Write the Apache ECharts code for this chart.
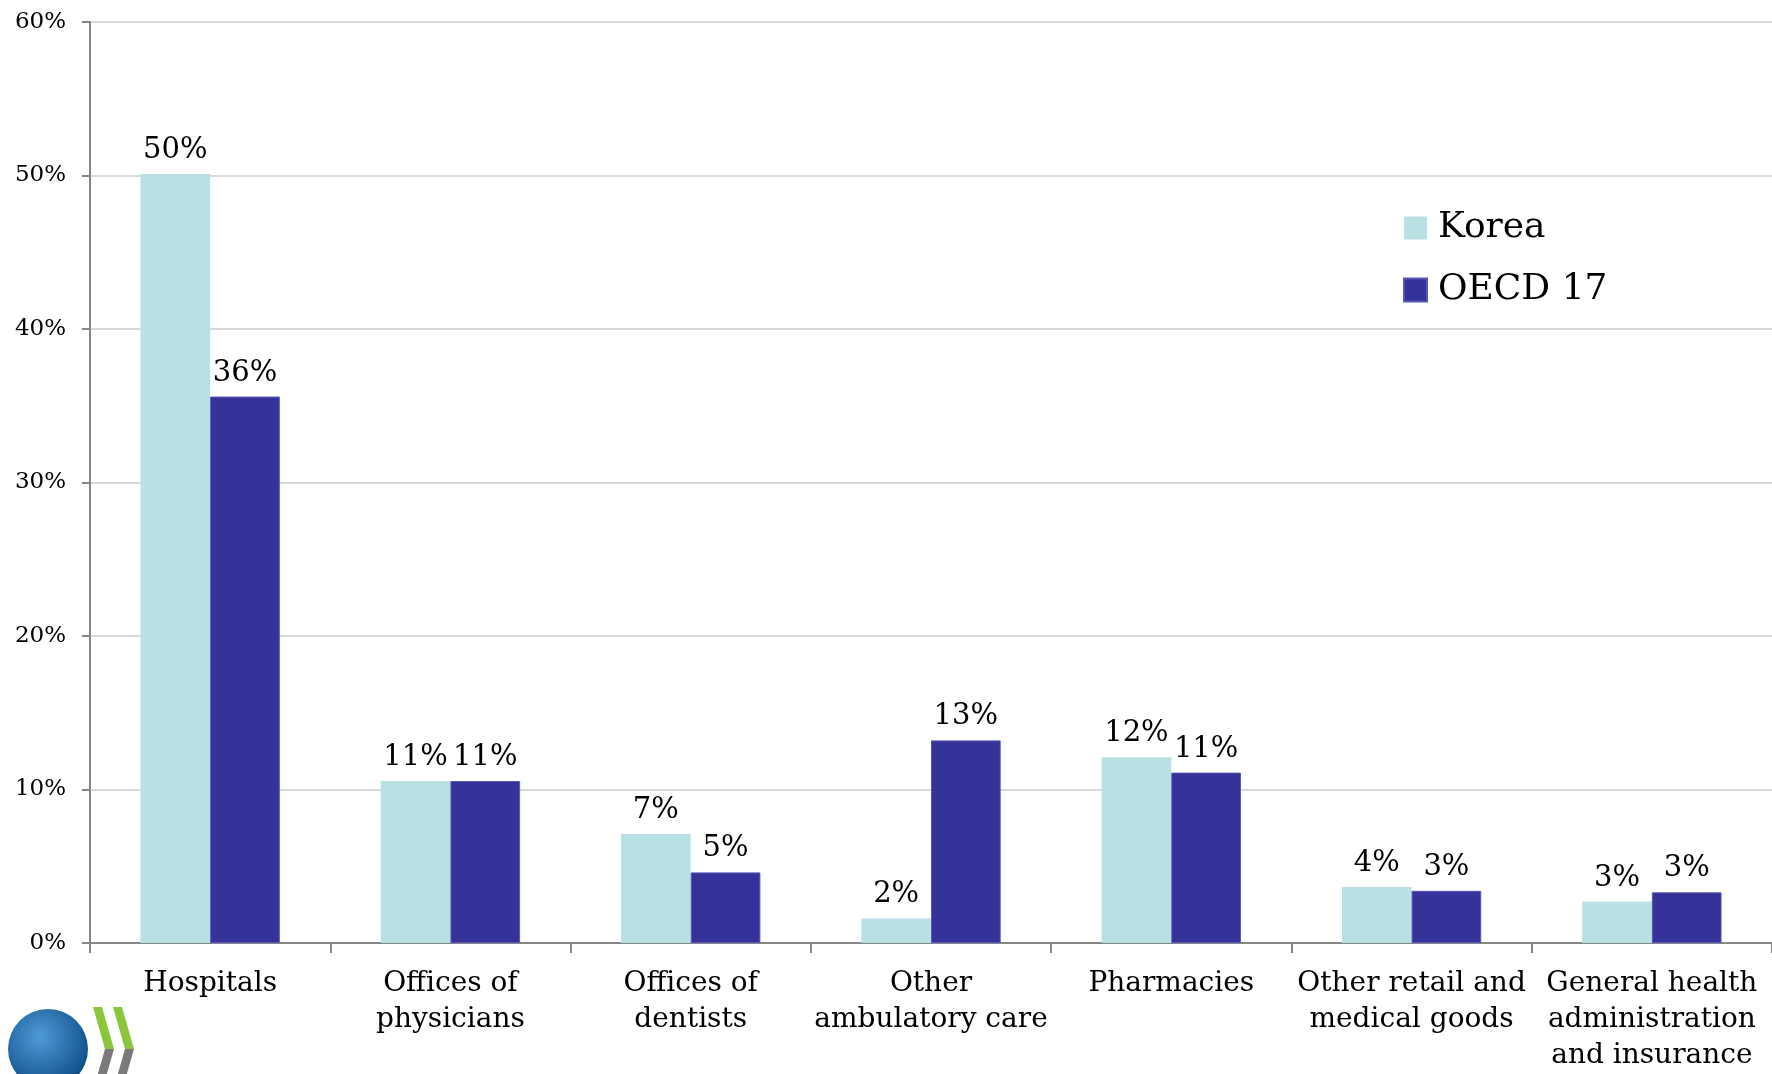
<!DOCTYPE html>
<html>
<head>
<meta charset="utf-8">
<script src="https://cdn.jsdelivr.net/npm/echarts@6/dist/echarts.min.js"></script>
<style>
html,body{margin:0;padding:0;background:#fff;}
#chart{width:1772px;height:1074px;}
</style>
</head>
<body>
<div id="chart"></div>
<script>
const categories = [
  "Hospitals",
  "Offices of\nphysicians",
  "Offices of\ndentists",
  "Other\nambulatory care",
  "Pharmacies",
  "Other retail and\nmedical goods",
  "General health\nadministration\nand insurance"
];
const korea = [50.1, 10.55, 7.1, 1.6, 12.1, 3.65, 2.7];
const oecd17 = [35.6, 10.55, 4.6, 13.2, 11.1, 3.4, 3.3];
const yTicks = [0, 10, 20, 30, 40, 50, 60];
const yTickLabels = ["0%", "10%", "20%", "30%", "40%", "50%", "60%"];

const FONT = "'DejaVu Serif', Georgia, serif";
const chart = echarts.init(document.getElementById('chart'));

function chevron(x0, y0, green) {
  return green
    ? [[x0, y0], [x0 + 9, y0], [x0 + 21, y0 + 42], [x0 + 12, y0 + 42]]
    : [[x0 + 12, y0 + 42], [x0 + 21, y0 + 42], [x0 + 9, y0 + 84], [x0, y0 + 84]];
}

chart.setOption({
  animation: false,
  backgroundColor: '#ffffff',
  textStyle: { fontFamily: FONT },
  grid: { left: 90, right: -5, top: 22, bottom: 125, containLabel: false },
  legend: {
    orient: 'vertical',
    left: 1403,
    top: 208,
    padding: 0,
    itemWidth: 23,
    itemHeight: 23,
    itemGap: 22,
    icon: 'rect',
    textStyle: { fontFamily: FONT, fontSize: 36, color: '#000', lineHeight: 40, padding: [0, 0, 0, 6] },
    data: ['Korea', 'OECD 17']
  },
  xAxis: {
    type: 'category',
    data: categories,
    axisLine: { lineStyle: { color: '#868686', width: 2 } },
    axisTick: { show: true, length: 10, lineStyle: { color: '#868686', width: 2 } },
    axisLabel: { fontFamily: FONT, fontSize: 28, color: '#000', lineHeight: 36, margin: 23, interval: 0 }
  },
  yAxis: {
    type: 'value',
    min: yTicks[0],
    max: yTicks[yTicks.length - 1],
    interval: 10,
    axisLine: { show: true, lineStyle: { color: '#868686', width: 2 } },
    axisTick: { show: true, length: 8, lineStyle: { color: '#868686', width: 2 } },
    splitLine: { lineStyle: { color: '#d9d9d9', width: 2 } },
    axisLabel: {
      fontFamily: FONT, fontSize: 23, color: '#000', margin: 24,
      formatter: v => yTickLabels[yTicks.indexOf(v)]
    }
  },
  series: [
    {
      name: 'Korea',
      type: 'bar',
      data: korea,
      barGap: '0%',
      barCategoryGap: '42%',
      itemStyle: { color: '#b9e0e3' },
      label: {
        show: true, position: 'top', distance: 9,
        fontFamily: FONT, fontSize: 29, color: '#000',
        formatter: p => Math.round(p.value) + '%'
      }
    },
    {
      name: 'OECD 17',
      type: 'bar',
      data: oecd17,
      barGap: '0%',
      barCategoryGap: '42%',
      itemStyle: { color: '#353399', borderColor: '#5856b8', borderWidth: 1 },
      label: {
        show: true, position: 'top', distance: 9,
        fontFamily: FONT, fontSize: 29, color: '#000',
        formatter: p => Math.round(p.value) + '%'
      }
    }
  ],
  graphic: [
    {
      type: 'circle',
      shape: { cx: 48, cy: 1049, r: 40 },
      style: {
        fill: {
          type: 'radial', x: 0.4, y: 0.35, r: 0.7,
          colorStops: [{ offset: 0, color: '#4f9ad6' }, { offset: 1, color: '#0b4c86' }]
        }
      }
    },
    { type: 'polygon', shape: { points: chevron(93, 1007, true) }, style: { fill: '#8cc63f' } },
    { type: 'polygon', shape: { points: chevron(93, 1007, false) }, style: { fill: '#7a7a7a' } },
    { type: 'polygon', shape: { points: chevron(113, 1007, true) }, style: { fill: '#8cc63f' } },
    { type: 'polygon', shape: { points: chevron(113, 1007, false) }, style: { fill: '#7a7a7a' } }
  ]
});
</script>
</body>
</html>
